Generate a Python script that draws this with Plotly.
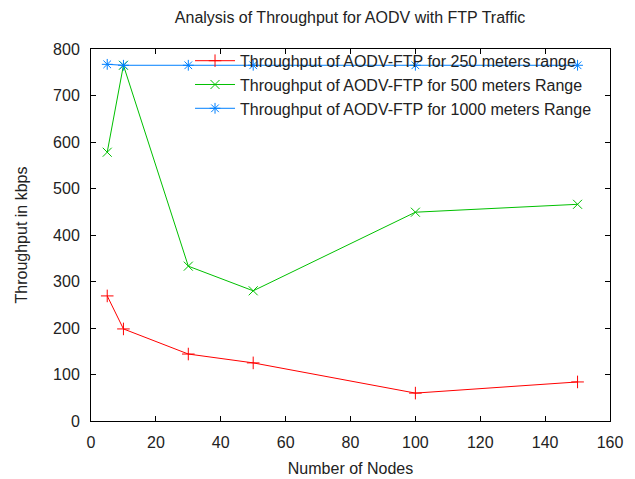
import plotly.graph_objects as go

nodes = [5, 10, 30, 50, 100, 150]
thr_250 = [269, 198, 144, 125, 60, 84]
thr_500 = [578, 765, 333, 280, 449, 466]
thr_1000 = [767, 765, 765, 765, 765, 765]

names = [
    "Throughput of AODV-FTP for 250 meters range",
    "Throughput of AODV-FTP for 500 meters Range",
    "Throughput of AODV-FTP for 1000 meters Range",
]
x_ticks = [0, 20, 40, 60, 80, 100, 120, 140, 160]
y_ticks = [0, 100, 200, 300, 400, 500, 600, 700, 800]

FONT = "Liberation Sans, Arial, sans-serif"
TXT = "#222222"
FS = 16

fig = go.Figure()
series = [
    (thr_250, "#ff0000", "cross-thin"),
    (thr_500, "#00c000", "x-thin"),
    (thr_1000, "#0080ff", "asterisk"),
]
for (ys, col, sym), nm in zip(series, names):
    fig.add_trace(go.Scatter(
        x=nodes, y=ys, name=nm, mode="lines+markers",
        line=dict(color=col, width=1),
        marker=dict(symbol=sym, size=9, color=col, line=dict(color=col, width=1)),
    ))

axis_common = dict(
    showline=True, linecolor="#000000", linewidth=1, mirror="ticks",
    ticks="inside", ticklen=5, tickcolor="#000000", showgrid=False, zeroline=False,
    tickfont=dict(family=FONT, size=FS, color=TXT), ticklabelstandoff=7,
)
fig.update_xaxes(range=[0, 160], tickvals=x_ticks, **axis_common,
                 title=dict(text="Number of Nodes", font=dict(family=FONT, size=FS, color=TXT), standoff=12))
fig.update_yaxes(range=[0, 800], tickvals=y_ticks, **axis_common,
                 title=dict(text="Throughput in kbps", font=dict(family=FONT, size=FS, color=TXT), standoff=21))

fig.update_layout(
    width=627, height=471,
    margin=dict(l=83, r=25, t=41, b=58, autoexpand=False),
    paper_bgcolor="white", plot_bgcolor="white",
    title=dict(text="Analysis of Throughput for AODV with FTP Traffic",
               font=dict(family=FONT, size=FS, color=TXT),
               x=0.5455, xanchor="center", y=0.979, yanchor="middle"),
    font=dict(family=FONT, size=FS, color=TXT),
    legend=dict(x=0.975, xanchor="right", y=1.014, yanchor="top",
                bgcolor="rgba(0,0,0,0)", borderwidth=0,
                font=dict(family=FONT, size=FS, color=TXT),
                tracegroupgap=0, itemwidth=40),
    showlegend=True,
)

fig.write_html("out.html")
